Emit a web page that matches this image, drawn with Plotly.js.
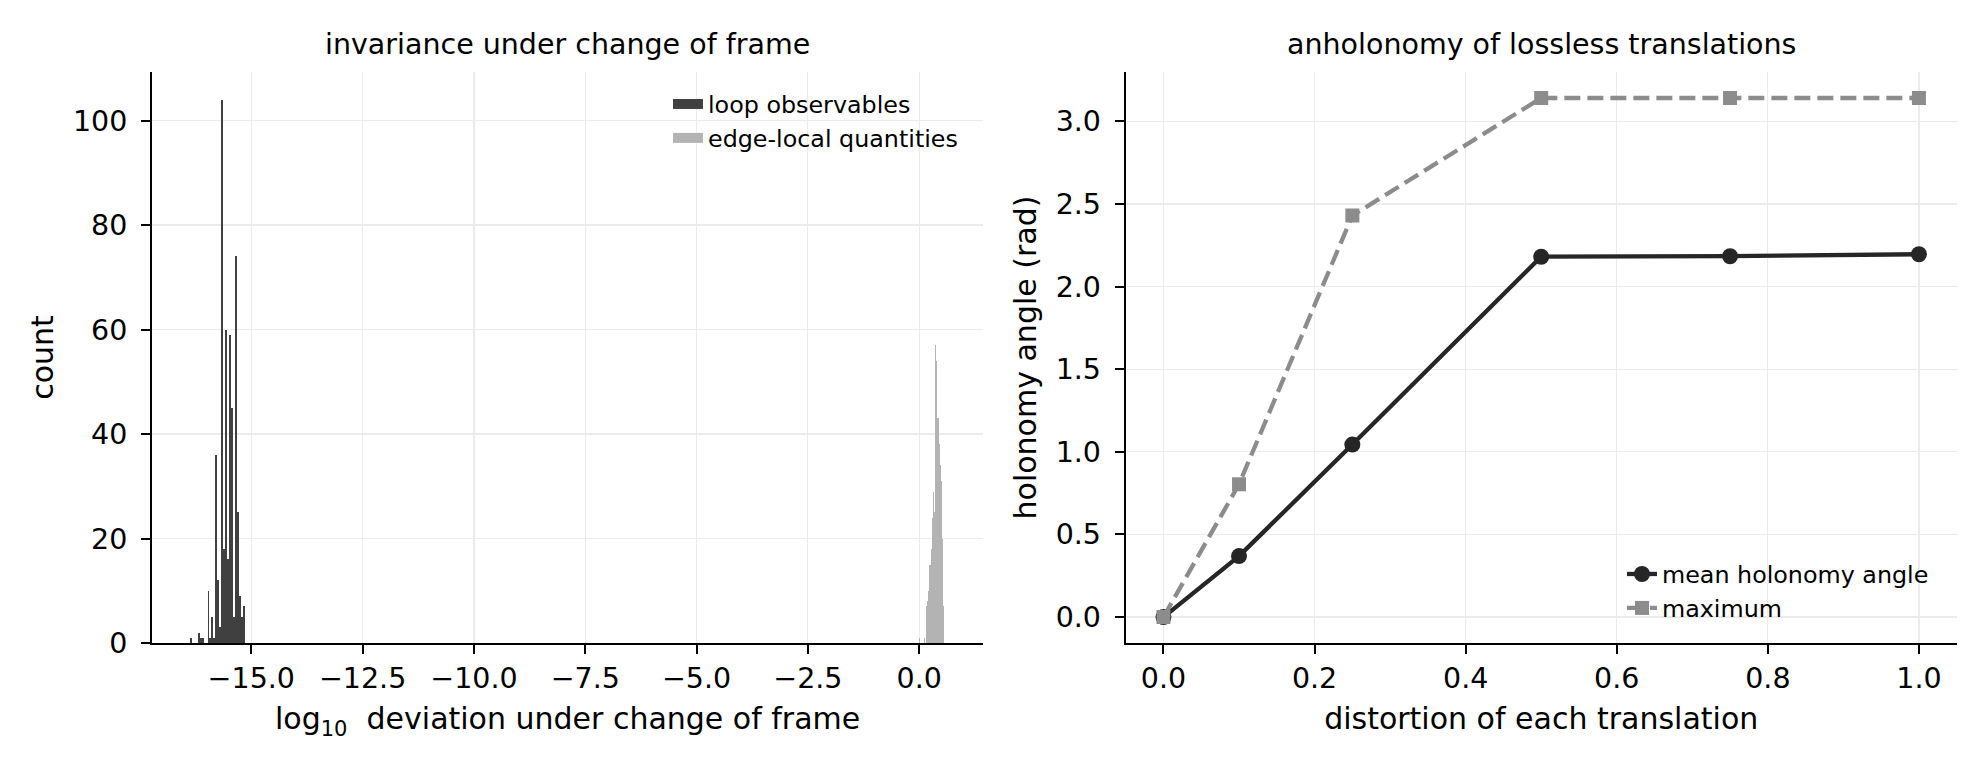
<!DOCTYPE html>
<html>
<head>
<meta charset="utf-8">
<script src="https://cdn.plot.ly/plotly-3.0.1.min.js"></script>
<style>
  html, body { margin: 0; padding: 0; background: #fff; }
  #chart { width: 1988px; height: 778px; }
</style>
</head>
<body>
<div id="chart"></div>
<script>
// histogram of log10 deviations (bin counts)
const loopBinStart = -16.38
const loopBinWidth = 0.0441
const loopCounts = [1, 0, 0, 0, 2, 1, 1, 0, 0, 10, 1, 5, 1, 36, 12, 3, 104, 18, 60, 16, 59, 45, 5, 74, 25, 9, 5, 7]

const edgeBinStart = -0.003
const edgeBinWidth = 0.0258
const edgeCounts = [1, 0, 0, 0, 1, 0, 7, 8, 10, 15, 18, 24, 29, 25, 57, 54, 43, 38, 34, 31, 20, 7]

// holonomy vs distortion
const distortion = [0, 0.1, 0.25, 0.5, 0.75, 1.0]
const meanAngle = [0, 0.369, 1.044, 2.181, 2.184, 2.196]
const maxAngle = [0, 0.804, 2.43, 3.1416, 3.1416, 3.1416]

const FONT = "DejaVu Sans"
const W = 1988, H = 778
const DARK = "#404040", LIGHT = "#b3b3b3"

function centers(start, width, counts) {
  return counts.map((_, i) => start + width * (i + 0.5))
}

// legend-only entries so the patches look like wide blocks
function patch(name, color) {
  return {
    type: "scatter", mode: "lines", x: [null], y: [null], name,
    line: { color, width: 17 },
    xaxis: "x", yaxis: "y", legend: "legend",
  }
}

const data = [
  {
    type: "bar",
    x: centers(loopBinStart, loopBinWidth, loopCounts),
    y: loopCounts,
    width: loopBinWidth,
    name: "loop observables",
    marker: { color: DARK, line: { width: 0 } },
    xaxis: "x", yaxis: "y",
    showlegend: false,
  },
  {
    type: "bar",
    x: centers(edgeBinStart, edgeBinWidth, edgeCounts),
    y: edgeCounts,
    width: edgeBinWidth,
    name: "edge-local quantities",
    marker: { color: LIGHT, line: { width: 0 } },
    xaxis: "x", yaxis: "y",
    showlegend: false,
  },
  patch("loop observables", DARK),
  patch("edge-local quantities", LIGHT),
  {
    type: "scatter",
    mode: "lines+markers",
    x: distortion,
    y: meanAngle,
    name: "mean holonomy angle",
    line: { color: "#262626", width: 4.3 },
    marker: { symbol: "circle", size: 16, color: "#262626" },
    xaxis: "x2", yaxis: "y2",
    legend: "legend2",
  },
  {
    type: "scatter",
    mode: "lines+markers",
    x: distortion,
    y: maxAngle,
    name: "maximum",
    line: { color: "#8c8c8c", width: 4.3, dash: "16px,7px" },
    marker: { symbol: "square", size: 14, color: "#8c8c8c" },
    xaxis: "x2", yaxis: "y2",
    legend: "legend2",
  },
]

const axisCommon = {
  showline: true,
  linecolor: "#000",
  linewidth: 2,
  ticks: "outside",
  ticklen: 9,
  tickwidth: 2,
  tickcolor: "#000",
  showgrid: true,
  gridcolor: "#ebebeb",
  gridwidth: 1.2,
  zeroline: false,
  tickfont: { family: FONT, size: 28.5, color: "#000" },
  title: { font: { family: FONT, size: 30, color: "#000" } },
}

const yDomain = [1 - 643 / H, 1 - 72 / H]

const legendCommon = {
  xanchor: "left", yanchor: "top",
  bgcolor: "rgba(0,0,0,0)",
  font: { family: FONT, size: 23.8, color: "#000" },
  traceorder: "normal",
}

const layout = {
  width: W,
  height: H,
  margin: { l: 0, r: 0, t: 0, b: 0 },
  paper_bgcolor: "#fff",
  plot_bgcolor: "#fff",
  barmode: "overlay",
  bargap: 0,
  font: { family: FONT, color: "#000" },
  xaxis: {
    ...axisCommon,
    domain: [152 / W, 983.3 / W],
    range: [-17.23, 1.44],
    tick0: 0,
    dtick: 2.5,
    tickformat: ".1f",
    anchor: "y",
    title: { ...axisCommon.title, text: "log<sub>10</sub>  deviation under change of frame", standoff: 14 },
  },
  yaxis: {
    ...axisCommon,
    domain: yDomain,
    range: [0, 109.3],
    dtick: 20,
    ticklabelstandoff: 8,
    anchor: "x",
    title: { ...axisCommon.title, text: "count", standoff: 10 },
  },
  xaxis2: {
    ...axisCommon,
    domain: [1125.7 / W, 1956.7 / W],
    range: [-0.05, 1.05],
    dtick: 0.2,
    tickformat: ".1f",
    anchor: "y2",
    title: { ...axisCommon.title, text: "distortion of each translation", standoff: 14 },
  },
  yaxis2: {
    ...axisCommon,
    domain: yDomain,
    range: [-0.157, 3.299],
    dtick: 0.5,
    tickformat: ".1f",
    ticklabelstandoff: 8,
    anchor: "x2",
    title: { ...axisCommon.title, text: "holonomy angle (rad)", standoff: 10 },
  },
  legend: { ...legendCommon, x: 668 / W, y: 1 - 82 / H },
  legend2: { ...legendCommon, x: 1622 / W, y: 1 - 552 / H },
  showlegend: true,
  annotations: [
    {
      text: "invariance under change of frame",
      xref: "x domain", yref: "paper", x: 0.5, y: 1 - 44.7 / H,
      xanchor: "center", yanchor: "middle", showarrow: false,
      font: { family: FONT, size: 28.5, color: "#000" },
    },
    {
      text: "anholonomy of lossless translations",
      xref: "x2 domain", yref: "paper", x: 0.5, y: 1 - 44.7 / H,
      xanchor: "center", yanchor: "middle", showarrow: false,
      font: { family: FONT, size: 28.5, color: "#000" },
    },
  ],
}

Plotly.newPlot("chart", data, layout, { staticPlot: true })
</script>
</body>
</html>
